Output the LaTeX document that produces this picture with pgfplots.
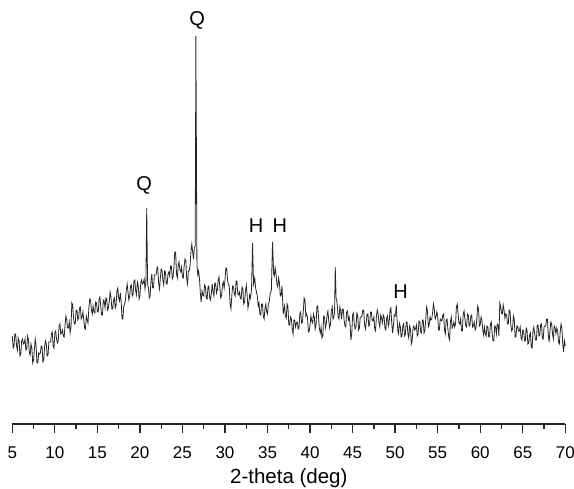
\documentclass[border=0pt]{standalone}
\usepackage{fontspec}
\setmainfont{Liberation Sans}
\usepackage{pgfplots}
\pgfplotsset{compat=1.18}
\begin{document}
\begin{tikzpicture}
\useasboundingbox (-12.3pt,-65pt) rectangle (561.7pt,424pt);
\begin{axis}[
  at={(0,0)}, anchor=south west,
  scale only axis, width=553pt, height=424pt,
  xmin=5, xmax=70, ymin=0, ymax=424,
  axis x line*=bottom, hide y axis,
  axis line style={line width=1.3pt, black!85},
  xtick={5,10,...,70}, minor x tick num=1,
  tick align=outside,
  major tick length=9pt, minor tick length=5pt,
  every tick/.style={line width=1.3pt, black!85},
  /pgf/number format/assume math mode=true,
  xticklabel style={font=\fontsize{17}{19}\selectfont, anchor=base, yshift=-26pt},
  xlabel={2-theta (deg)},
  xlabel style={font=\fontsize{20.5}{22}\selectfont, at={(axis description cs:0.5,0)}, anchor=base, yshift=-60pt},
  clip=false,
]
\addplot[black!85, line width=0.8pt] coordinates {
(5.0,88)(5.1,76)(5.2,78)(5.3,90)(5.4,90)(5.5,78)(5.6,74)(5.7,86)(5.8,83)(5.9,68)
(6.0,70)(6.1,83)(6.2,85)(6.3,80)(6.4,81)(6.5,85)(6.6,74)(6.7,75)(6.8,88)(6.9,84)
(7.0,71)(7.1,69)(7.2,80)(7.3,76)(7.4,61)(7.5,64)(7.6,75)(7.7,85)(7.8,78)(7.9,61)
(8.0,61)(8.1,71)(8.2,70)(8.3,71)(8.4,78)(8.5,77)(8.6,62)(8.7,64)(8.8,78)(8.9,83)
(9.0,80)(9.1,68)(9.2,69)(9.3,82)(9.4,82)(9.5,82)(9.6,90)(9.7,92)(9.8,78)(9.9,76)
(10.0,91)(10.1,93)(10.2,85)(10.3,81)(10.4,83)(10.5,98)(10.6,100)(10.7,90)(10.8,91)(10.9,94)
(11.0,88)(11.1,87)(11.2,99)(11.3,108)(11.4,104)(11.5,96)(11.6,96)(11.7,102)(11.8,91)(11.9,97)
(12.0,121)(12.1,119)(12.2,106)(12.3,100)(12.4,100)(12.5,114)(12.6,114)(12.7,104)(12.8,106)(12.9,116)
(13.0,117)(13.1,105)(13.2,107)(13.3,112)(13.4,104)(13.5,96)(13.6,95)(13.7,108)(13.8,104)(13.9,101)
(14.0,116)(14.1,125)(14.2,124)(14.3,114)(14.4,110)(14.5,118)(14.6,112)(14.7,111)(14.8,122)(14.9,121)
(15.0,112)(15.1,112)(15.2,125)(15.3,127)(15.4,117)(15.5,109)(15.6,109)(15.7,124)(15.8,123)(15.9,116)
(16.0,126)(16.1,125)(16.2,114)(16.3,116)(16.4,123)(16.5,132)(16.6,127)(16.7,115)(16.8,115)(16.9,124)
(17.0,126)(17.1,116)(17.2,119)(17.3,133)(17.4,136)(17.5,126)(17.6,123)(17.7,131)(17.8,122)(17.9,105)
(18.0,105)(18.1,118)(18.2,120)(18.3,124)(18.4,134)(18.5,140)(18.6,132)(18.7,124)(18.8,128)(18.9,138)
(19.0,139)(19.1,128)(19.2,130)(19.3,143)(19.4,144)(19.5,133)(19.6,129)(19.7,142)(19.8,139)(19.9,125)
(20.0,128)(20.1,141)(20.2,144)(20.3,140)(20.4,141)(20.5,145)(20.6,135)(20.7,142)(20.8,216)(20.9,140)
(21.0,136)(21.1,126)(21.2,128)(21.3,143)(21.4,150)(21.5,136)(21.6,136)(21.7,149)(21.8,149)(21.9,149)
(22.0,156)(22.1,157)(22.2,141)(22.3,135)(22.4,146)(22.5,155)(22.6,154)(22.7,143)(22.8,139)(22.9,153)
(23.0,152)(23.1,140)(23.2,140)(23.3,150)(23.4,152)(23.5,148)(23.6,158)(23.7,158)(23.8,145)(23.9,147)
(24.0,157)(24.1,172)(24.2,172)(24.3,150)(24.4,146)(24.5,159)(24.6,162)(24.7,154)(24.8,152)(24.9,157)
(25.0,147)(25.1,146)(25.2,158)(25.3,165)(25.4,163)(25.5,145)(25.6,140)(25.7,153)(25.8,153)(25.9,159)
(26.0,173)(26.1,180)(26.2,172)(26.3,165)(26.4,176)(26.5,178)(26.58,388)(26.7,160)(26.8,149)(26.9,153)
(27.0,146)(27.1,131)(27.2,122)(27.3,133)(27.4,129)(27.5,128)(27.6,139)(27.7,137)(27.8,126)(27.9,125)
(28.0,137)(28.1,138)(28.2,126)(28.3,124)(28.4,131)(28.5,140)(28.6,132)(28.7,128)(28.8,141)(28.9,141)
(29.0,131)(29.1,134)(29.2,144)(29.3,147)(29.4,136)(29.5,126)(29.6,128)(29.7,139)(29.8,142)(29.9,136)
(30.0,144)(30.1,156)(30.2,156)(30.3,144)(30.4,139)(30.5,138)(30.6,120)(30.7,115)(30.8,128)(30.9,138)
(31.0,137)(31.1,130)(31.2,128)(31.3,143)(31.4,143)(31.5,130)(31.6,129)(31.7,132)(31.8,126)(31.9,125)
(32.0,137)(32.1,135)(32.2,120)(32.3,122)(32.4,132)(32.5,139)(32.6,129)(32.7,116)(32.8,121)(32.9,129)
(33.0,126)(33.12,135)(33.24,181)(33.36,140)(33.5,146)(33.6,136)(33.7,132)(33.8,128)(33.9,118)(34.0,121)
(34.1,110)(34.2,109)(34.3,120)(34.4,120)(34.5,108)(34.6,105)(34.7,116)(34.8,120)(34.9,112)(35.0,110)
(35.1,120)(35.2,122)(35.3,130)(35.45,134)(35.59,182)(35.72,150)(35.8,148)(35.9,156)(36.0,150)(36.1,140)
(36.2,137)(36.3,146)(36.4,141)(36.5,128)(36.6,129)(36.7,138)(36.85,110)(36.92,114)(37.0,118)(37.1,108)
(37.2,106)(37.3,120)(37.4,117)(37.5,99)(37.6,99)(37.7,107)(37.8,105)(37.9,95)(38.0,90)(38.1,104)
(38.2,104)(38.3,97)(38.4,101)(38.5,102)(38.6,95)(38.7,96)(38.8,110)(38.9,112)(39.0,101)(39.1,102)
(39.2,112)(39.3,126)(39.4,124)(39.5,108)(39.6,110)(39.7,106)(39.8,92)(39.9,93)(40.0,99)(40.1,108)
(40.2,103)(40.3,101)(40.4,110)(40.5,107)(40.6,95)(40.7,99)(40.8,117)(40.9,118)(41.0,106)(41.1,95)
(41.2,91)(41.3,97)(41.4,86)(41.5,88)(41.6,108)(41.7,107)(41.8,96)(41.9,100)(42.0,109)(42.1,113)
(42.2,103)(42.3,96)(42.4,100)(42.5,113)(42.6,117)(42.7,105)(42.8,107)(42.88,112)(42.96,157)(43.06,126)
(43.13,124)(43.2,118)(43.3,107)(43.4,105)(43.5,117)(43.6,113)(43.7,105)(43.8,115)(43.9,115)(44.0,104)
(44.1,98)(44.2,97)(44.3,112)(44.4,113)(44.5,104)(44.6,107)(44.7,100)(44.8,84)(44.9,90)(45.0,109)
(45.1,111)(45.2,100)(45.3,95)(45.4,97)(45.5,111)(45.6,109)(45.7,94)(45.8,96)(45.9,107)(46.0,107)
(46.1,108)(46.2,114)(46.3,114)(46.4,100)(46.5,95)(46.6,101)(46.7,110)(46.8,110)(46.9,98)(47.0,99)
(47.1,112)(47.2,112)(47.3,104)(47.4,103)(47.5,107)(47.6,95)(47.7,93)(47.8,108)(47.9,114)(48.0,110)
(48.1,101)(48.2,97)(48.3,109)(48.4,106)(48.5,101)(48.6,109)(48.7,107)(48.8,96)(48.9,94)(49.0,106)
(49.1,108)(49.2,98)(49.3,102)(49.4,114)(49.5,116)(49.6,101)(49.7,91)(49.8,99)(49.9,109)(50.0,108)
(50.07,112)(50.13,119)(50.2,108)(50.26,100)(50.33,92)(50.4,90)(50.5,101)(50.6,98)(50.7,87)(50.8,88)
(50.9,98)(51.0,100)(51.1,88)(51.2,90)(51.3,102)(51.4,102)(51.5,90)(51.6,86)(51.7,98)(51.8,95)
(51.9,80)(52.0,83)(52.1,96)(52.2,98)(52.3,94)(52.4,95)(52.5,99)(52.6,88)(52.7,90)(52.8,103)
(52.9,102)(53.0,92)(53.1,91)(53.2,104)(53.3,104)(53.4,91)(53.5,94)(53.6,105)(53.7,117)(53.8,113)
(53.9,97)(54.0,99)(54.1,107)(54.2,104)(54.3,105)(54.4,111)(54.5,120)(54.6,115)(54.7,105)(54.8,107)
(54.9,112)(55.0,108)(55.1,94)(55.2,94)(55.3,105)(55.4,104)(55.5,103)(55.6,109)(55.7,110)(55.8,94)
(55.9,90)(56.0,104)(56.1,105)(56.2,95)(56.3,87)(56.4,84)(56.5,103)(56.6,107)(56.7,96)(56.8,98)
(56.9,102)(57.0,97)(57.1,100)(57.2,117)(57.3,120)(57.4,110)(57.5,101)(57.6,100)(57.7,105)(57.8,93)
(57.9,93)(58.0,110)(58.1,113)(58.2,105)(58.3,98)(58.4,97)(58.5,110)(58.6,109)(58.7,98)(58.8,99)
(58.9,108)(59.0,109)(59.1,97)(59.2,98)(59.3,102)(59.4,94)(59.5,96)(59.6,105)(59.7,118)(59.8,115)
(59.9,98)(60.0,99)(60.1,107)(60.2,104)(60.3,94)(60.4,89)(60.5,97)(60.6,90)(60.7,88)(60.8,98)
(60.9,97)(61.0,87)(61.1,87)(61.2,100)(61.3,102)(61.4,91)(61.5,83)(61.6,83)(61.7,98)(61.8,97)
(61.9,90)(62.0,100)(62.1,99)(62.2,88)(62.3,121)(62.4,118)(62.5,111)(62.6,110)(62.7,119)(62.8,114)
(62.9,106)(63.0,110)(63.1,109)(63.2,100)(63.3,100)(63.4,114)(63.5,113)(63.6,99)(63.7,93)(63.8,95)
(63.9,108)(64.0,105)(64.1,87)(64.2,87)(64.3,98)(64.4,98)(64.5,93)(64.6,93)(64.7,97)(64.8,86)
(64.9,84)(65.0,94)(65.1,93)(65.2,83)(65.3,83)(65.4,96)(65.5,94)(65.6,80)(65.7,81)(65.8,89)
(65.9,91)(66.0,77)(66.1,76)(66.2,93)(66.3,97)(66.4,90)(66.5,84)(66.6,84)(66.7,99)(66.8,99)
(66.9,88)(67.0,89)(67.1,99)(67.2,100)(67.3,86)(67.4,85)(67.5,97)(67.6,98)(67.7,98)(67.8,105)
(67.9,105)(68.0,89)(68.1,82)(68.2,93)(68.3,102)(68.4,100)(68.5,90)(68.6,85)(68.7,98)(68.8,96)
(68.9,90)(69.0,96)(69.1,93)(69.2,82)(69.3,80)(69.4,92)(69.5,100)(69.6,96)(69.7,80)(69.8,72)
(69.9,83)(70.0,78)
};
\node[font=\fontsize{20}{22}\selectfont, anchor=base] at (axis cs:26.73,398.5) {Q};
\node[font=\fontsize{20}{22}\selectfont, anchor=base] at (axis cs:20.49,233) {Q};
\node[font=\fontsize{20}{22}\selectfont, anchor=base] at (axis cs:33.67,191) {H};
\node[font=\fontsize{20}{22}\selectfont, anchor=base] at (axis cs:36.46,191) {H};
\node[font=\fontsize{20}{22}\selectfont, anchor=base] at (axis cs:50.65,125.7) {H};
\end{axis}
\end{tikzpicture}
\end{document}
